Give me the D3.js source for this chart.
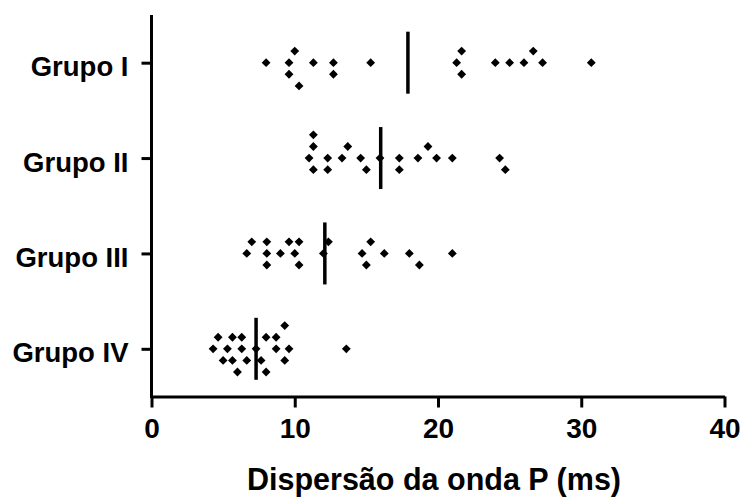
<!DOCTYPE html>
<html>
<head>
<meta charset="utf-8">
<script src="https://cdn.jsdelivr.net/npm/d3@7"></script>
<style>
    body { margin: 0; background: #fff; }
    text { font-family: "Liberation Sans", Arial, sans-serif; font-weight: bold; fill: #000; }
</style>
</head>
<body>
<svg id="scatter" width="742" height="500"></svg>
<script>
var groups = ["Grupo I", "Grupo II", "Grupo III", "Grupo IV"];

// valores (ms) e faixa vertical de cada ponto dentro do grupo
var grupo1 = [8.0, 10.0, 9.6, 9.6, 10.3, 11.3, 12.7, 12.7, 15.3, 21.65, 21.3, 21.65, 24.0, 25.0, 26.0, 26.65, 27.3, 30.7];
var grupo1Lanes = [0, -1, 0, 1, 2, 0, 0, 1, 0, -1, 0, 1, 0, 0, 0, -1, 0, 0];

var grupo2 = [11.3, 11.3, 11.0, 11.3, 12.3, 12.3, 13.3, 13.7, 14.6, 15.0, 15.95, 17.3, 17.3, 18.6, 19.3, 19.9, 21.0, 24.3, 24.7];
var grupo2Lanes = [-2, -1, 0, 1, 0, 1, 0, -1, 0, 1, 0, 0, 1, 0, -1, 0, 0, 0, 1];

var grupo3 = [7.0, 6.65, 8.05, 8.05, 8.05, 9.0, 9.6, 10.3, 10.0, 10.3, 12.0, 12.35, 14.7, 15.3, 15.0, 16.25, 18.0, 18.7, 21.0];
var grupo3Lanes = [-1, 0, -1, 0, 1, 0, -1, -1, 0, 1, 0, -1, 0, -1, 1, 0, 0, 1, 0];

var grupo4 = [4.3, 4.65, 5.0, 5.3, 5.65, 5.65, 6.0, 6.3, 6.3, 6.65, 7.3, 7.65, 8.0, 8.0, 8.7, 8.7, 9.3, 9.3, 9.6, 13.6];
var grupo4Lanes = [0, -1, 1, 0, -1, 1, 2, -1, 0, 1, 0, 1, 2, -1, -1, 0, -2, 1, 0, 0];

var medians = [17.9, 16.0, 12.1, 7.3];
var xTicks = [0, 10, 20, 30, 40];

var values = [grupo1, grupo2, grupo3, grupo4];
var lanes = [grupo1Lanes, grupo2Lanes, grupo3Lanes, grupo4Lanes];

var points = [];
values.forEach(function(vals, g) {
    vals.forEach(function(v, i) {
        points.push({group: groups[g], value: v, lane: lanes[g][i]});
    });
});

var svg = d3.select("#scatter");

var x = d3.scaleLinear().domain([0, 40]).range([151.5, 724.5]);
var y = d3.scalePoint().domain(groups).range([15, 396.5]).padding(0.5);
var laneY = d3.scaleLinear().domain([-1, 1]).range([-11.6, 11.6]);

var xAxis = svg.append("g")
    .attr("transform", "translate(0, 396.5)")
    .call(d3.axisBottom(x).tickValues(xTicks).tickSize(11).tickSizeOuter(0));

xAxis.selectAll("text")
    .attr("y", 41.5)
    .attr("dy", null)
    .style("font-size", "28px");

var yAxis = svg.append("g")
    .attr("transform", "translate(151.5, 0)")
    .call(d3.axisLeft(y).tickSize(10).tickSizeOuter(0));

yAxis.selectAll("text")
    .attr("x", -23)
    .attr("y", 13)
    .attr("dy", null)
    .style("font-size", "27.5px");

svg.selectAll(".domain, .tick line")
    .attr("stroke", "#000")
    .attr("stroke-width", 3);

// o eixo Y sobe até o topo da área
yAxis.select(".domain").attr("d", "M0,15V398");

var diamond = d3.symbol().type(d3.symbolSquare).size(39);

svg.append("g")
    .selectAll("path")
    .data(points)
    .enter()
    .append("path")
    .attr("d", diamond)
    .attr("transform", function(d) {
        return "translate(" + x(d.value) + "," + (y(d.group) + laneY(d.lane)) + ") rotate(45)";
    })
    .style("fill", "#000");

svg.append("g")
    .selectAll("line")
    .data(medians)
    .enter()
    .append("line")
    .attr("x1", function(d) { return x(d); })
    .attr("x2", function(d) { return x(d); })
    .attr("y1", function(d, i) { return y(groups[i]) - 31; })
    .attr("y2", function(d, i) { return y(groups[i]) + 31; })
    .attr("stroke", "#000")
    .attr("stroke-width", 3.5);

svg.append("text")
    .attr("x", 434)
    .attr("y", 490)
    .style("text-anchor", "middle")
    .style("font-size", "30.5px")
    .text("Dispersão da onda P (ms)");
</script>
</body>
</html>
